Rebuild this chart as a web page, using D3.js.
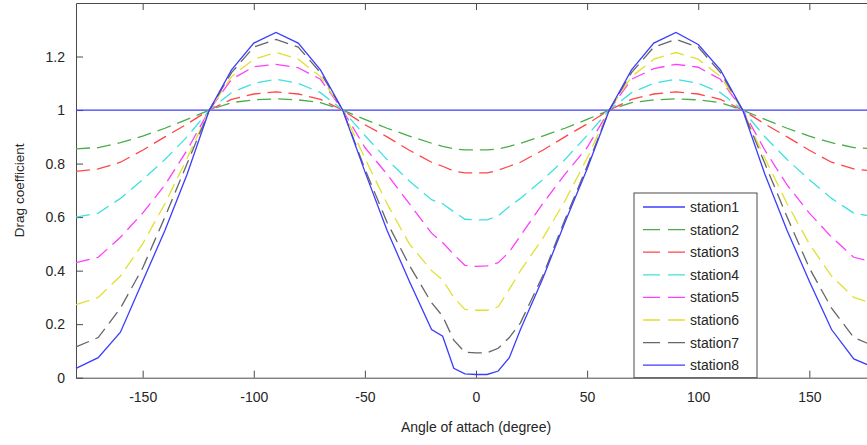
<!DOCTYPE html>
<meta charset="utf-8">
<script src="https://d3js.org/d3.v7.min.js"></script>
<style>
  body { margin: 0; background: #fff; }
  text { font-family: "Liberation Sans", Arial, sans-serif; fill: #262626; }
</style>
<div id="chart"></div>
<script>

// angle of attack (degree) where every station was sampled
var angles = [-180,-170,-160,-150,-140,-130,-120,-110,-100,-90,-80,-70,-60,-50,-40,-30,-20,-15,-10,-5,
              0,5,10,15,20,30,40,50,60,70,80,90,100,110,120,130,140,150,160,170,180];

// drag coefficient per station
var station1 = [1,1,1,1,1,1,1,1,1,1,1,1,1,1,1,1,1,1,1,1,
                1,1,1,1,1,1,1,1,1,1,1,1,1,1,1,1,1,1,1,1,1];
var station2 = [0.855,0.86,0.878,0.903,0.932,0.965,1.0,1.028,1.038,1.042,1.038,1.028,1.0,0.965,0.932,0.903,0.876,0.864,0.855,0.851,
                0.851,0.851,0.855,0.864,0.876,0.903,0.932,0.965,1.0,1.028,1.038,1.042,1.038,1.028,1.0,0.965,0.932,0.903,0.878,0.86,0.855];
var station3 = [0.771,0.78,0.805,0.85,0.9,0.948,1.0,1.04,1.06,1.068,1.06,1.04,1.0,0.945,0.9,0.85,0.805,0.79,0.772,0.765,
                0.765,0.765,0.775,0.79,0.805,0.85,0.9,0.948,1.0,1.04,1.06,1.068,1.06,1.04,1.0,0.948,0.9,0.85,0.805,0.78,0.771];
var station4 = [0.6,0.615,0.67,0.74,0.815,0.9,1.0,1.065,1.1,1.115,1.1,1.065,1.0,0.905,0.815,0.735,0.665,0.65,0.62,0.592,
                0.59,0.59,0.605,0.64,0.67,0.74,0.815,0.905,1.0,1.065,1.1,1.115,1.1,1.065,1.0,0.9,0.815,0.74,0.67,0.615,0.6];
var station5 = [0.43,0.45,0.525,0.615,0.72,0.85,1.0,1.115,1.162,1.171,1.158,1.115,1.0,0.86,0.76,0.65,0.54,0.505,0.46,0.42,
                0.416,0.418,0.43,0.47,0.53,0.65,0.76,0.86,1.0,1.115,1.155,1.171,1.16,1.115,1.0,0.85,0.72,0.615,0.525,0.45,0.43];
var station6 = [0.273,0.3,0.38,0.5,0.65,0.82,1.0,1.125,1.19,1.215,1.19,1.125,1.0,0.82,0.65,0.5,0.4,0.365,0.3,0.255,
                0.252,0.252,0.265,0.33,0.4,0.52,0.66,0.82,1.0,1.125,1.19,1.215,1.19,1.125,1.0,0.82,0.65,0.5,0.38,0.3,0.273];
var station7 = [0.115,0.15,0.26,0.41,0.6,0.8,1.0,1.14,1.235,1.264,1.235,1.14,1.0,0.78,0.58,0.42,0.28,0.23,0.14,0.095,
                0.093,0.093,0.11,0.15,0.205,0.38,0.59,0.79,1.0,1.14,1.235,1.264,1.235,1.14,1.0,0.8,0.6,0.41,0.26,0.15,0.115];
var station8 = [0.035,0.075,0.17,0.36,0.55,0.76,1.0,1.15,1.25,1.29,1.25,1.15,1.0,0.77,0.55,0.36,0.18,0.155,0.035,0.014,
                0.012,0.012,0.025,0.075,0.18,0.37,0.58,0.78,1.0,1.15,1.25,1.29,1.245,1.15,1.0,0.76,0.55,0.36,0.18,0.07,0.035];

var stationNames = ["station1","station2","station3","station4","station5","station6","station7","station8"];
var stationValues = [station1, station2, station3, station4, station5, station6, station7, station8];

var xTicks = [-150, -100, -50, 0, 50, 100, 150];
var yTicks = [0, 0.2, 0.4, 0.6, 0.8, 1, 1.2];

// line styles, same order as the stations
var colors = ["#3c3cff","#48ad48","#ff4646","#3fe0e0","#ff3cff","#e0e030","#666666","#3c3cff"];
var dashes = [null,"14,7","14,7","14,7","14,7","14,7","14,7",null];

var W = 867, H = 445;
// the plot box runs past the right edge of the window, like the picture
var margin = {top: 3, left: 76},
    width = 800,
    height = 374.7;

var svg = d3.select("#chart")
  .append("svg")
    .attr("width", W)
    .attr("height", H)
  .append("g")
    .attr("transform", "translate(" + margin.left + "," + margin.top + ")");

var x = d3.scaleLinear().domain([-180, 180]).range([0, width]);
var y = d3.scaleLinear().domain([0, 1.4]).range([height, 0]);

// plain hyphen minus, not the unicode one d3 uses
function plain(d) { return String(d) }

function styleAxis(g) {
  g.selectAll(".domain").attr("stroke", "#4a4a4a");
  g.selectAll(".tick line").attr("stroke", "#4a4a4a");
  g.selectAll(".tick text").attr("font-size", "14px").attr("fill", "#262626")
    .attr("font-family", "'Liberation Sans', Arial, sans-serif");
}

// bottom + left axes with inward ticks
svg.append("g")
  .attr("transform", "translate(0," + height + ")")
  .call(d3.axisBottom(x).tickValues(xTicks).tickFormat(plain).tickSize(-7).tickSizeOuter(0).tickPadding(14))
  .call(styleAxis);

svg.append("g")
  .call(d3.axisLeft(y).tickValues(yTicks).tickFormat(plain)
        .tickSize(-7).tickSizeOuter(0).tickPadding(11))
  .call(styleAxis);

// top + right box edges
svg.append("g")
  .call(d3.axisTop(x).tickValues(xTicks).tickSize(-7).tickSizeOuter(0).tickFormat(""))
  .call(styleAxis);

svg.append("g")
  .attr("transform", "translate(" + width + ",0)")
  .call(d3.axisRight(y).tickValues(yTicks).tickSize(-7).tickSizeOuter(0).tickFormat(""))
  .call(styleAxis);

// the curves
var line = d3.line()
  .x(function(d, i){ return x(angles[i]) })
  .y(function(d){ return y(d) });

svg.selectAll(".curve")
  .data(stationValues)
  .enter()
  .append("path")
    .attr("class", "curve")
    .attr("d", line)
    .attr("fill", "none")
    .attr("stroke", function(d, i){ return colors[i] })
    .attr("stroke-width", 1.3)
    .attr("stroke-dasharray", function(d, i){ return dashes[i] });

// axis titles
svg.append("text")
  .attr("x", width / 2)
  .attr("y", 428.5)
  .attr("text-anchor", "middle")
  .attr("font-size", "14px")
  .text("Angle of attach (degree)");

svg.append("text")
  .attr("transform", "translate(" + (-52) + "," + (height / 2) + ") rotate(-90)")
  .attr("text-anchor", "middle")
  .attr("font-size", "13.5px")
  .text("Drag coefficient");

// legend
var lg = svg.append("g")
  .attr("transform", "translate(" + (634 - margin.left) + "," + (193 - margin.top) + ")");

lg.append("rect")
  .attr("width", 123)
  .attr("height", 184.7)
  .attr("fill", "white")
  .attr("stroke", "#4a4a4a");

var rows = lg.selectAll(".row")
  .data(stationNames)
  .enter()
  .append("g")
    .attr("transform", function(d, i){ return "translate(0," + (14 + i * 22.6) + ")" });

rows.append("line")
  .attr("x1", 9).attr("x2", 51)
  .attr("stroke", function(d, i){ return colors[i] })
  .attr("stroke-width", 1.3)
  .attr("stroke-dasharray", function(d, i){ return dashes[i] ? "17,8" : null });

rows.append("text")
  .attr("x", 56)
  .attr("dy", "0.35em")
  .attr("font-size", "14px")
  .text(function(d){ return d });

</script>
